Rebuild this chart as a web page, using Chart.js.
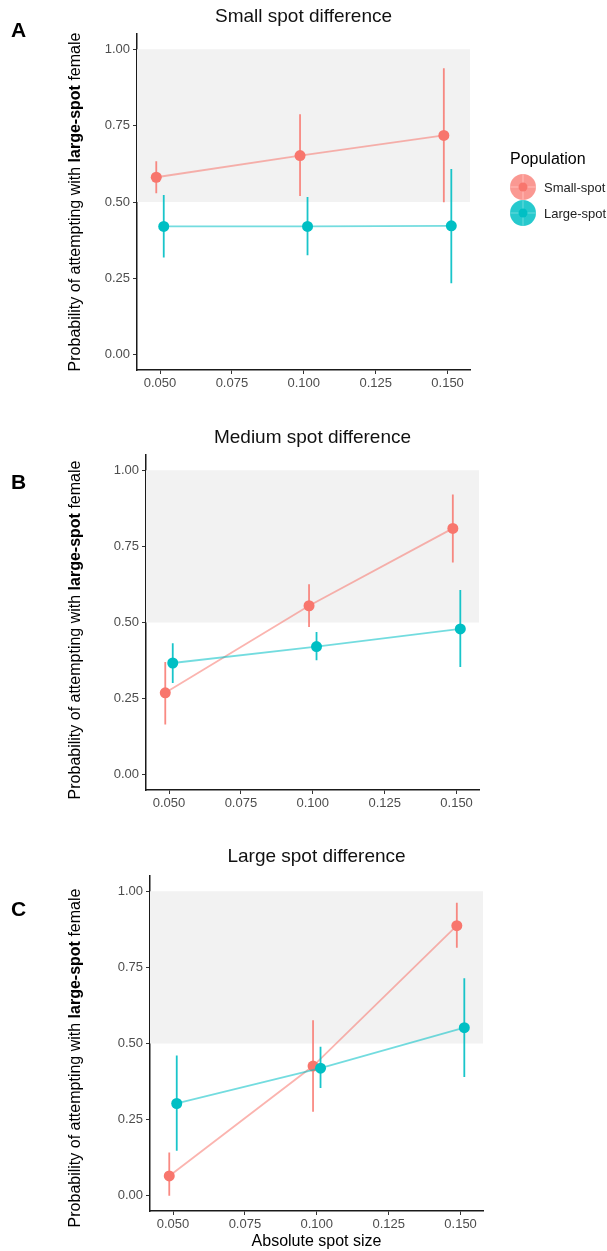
<!DOCTYPE html>
<html>
<head>
<meta charset="utf-8">
<script src="https://cdn.jsdelivr.net/npm/chart.js@4.4.1/dist/chart.umd.min.js"></script>
<style>
  body { margin: 0; background: #fff; width: 607px; height: 1251px; position: relative; overflow: hidden;
         font-family: "Liberation Sans", Arial, Helvetica, sans-serif; }
  canvas { position: absolute; left: 0; }
  .letter { position: absolute; left: 11px; font-size: 21px; font-weight: bold; line-height: 1; transform: translateY(-50%); }
  .ylab { position: absolute; left: 75px; font-size: 16px; white-space: nowrap; color: #000;
          transform: translate(-50%, -50%) rotate(-90deg); line-height: 1; }
  .legend { position: absolute; left: 508px; top: 150px; }
  .legend .ttl { font-size: 16px; color: #000; margin-bottom: 6px; margin-left: 2px; }
  .legend .row { display: flex; align-items: center; height: 26px; }
  .legend .lab { font-size: 13px; color: #222; margin-left: 6px; }
</style>
</head>
<body>
<canvas id="panelA" width="607" height="400" style="top:0px"></canvas>
<canvas id="panelB" width="607" height="400" style="top:420px"></canvas>
<canvas id="panelC" width="607" height="411" style="top:840px"></canvas>

<div class="letter" style="top:29px">A</div>
<div class="letter" style="top:481px">B</div>
<div class="letter" style="top:908px">C</div>

<div class="ylab" style="top:202px">Probability of attempting with <b>large-spot</b> female</div>
<div class="ylab" style="top:630px">Probability of attempting with <b>large-spot</b> female</div>
<div class="ylab" style="top:1058px">Probability of attempting with <b>large-spot</b> female</div>

<div class="legend">
  <div class="ttl">Population</div>
  <div class="row">
    <svg width="30" height="30" viewBox="-15 -15 30 30">
      <circle r="13" fill="rgba(248,118,109,0.75)"/>
      <line x1="-13" y1="0" x2="13" y2="0" stroke="rgba(255,180,175,0.9)" stroke-width="1.5"/>
      <line x1="0" y1="-13" x2="0" y2="13" stroke="rgba(255,180,175,0.9)" stroke-width="1.5"/>
      <circle r="4.5" fill="#F8766D"/>
    </svg>
    <span class="lab">Small-spot</span>
  </div>
  <div class="row">
    <svg width="30" height="30" viewBox="-15 -15 30 30">
      <circle r="13" fill="rgba(0,191,196,0.85)"/>
      <line x1="-13" y1="0" x2="13" y2="0" stroke="rgba(90,215,218,0.9)" stroke-width="1.5"/>
      <line x1="0" y1="-13" x2="0" y2="13" stroke="rgba(90,215,218,0.9)" stroke-width="1.5"/>
      <circle r="4.5" fill="#00BFC4"/>
    </svg>
    <span class="lab">Large-spot</span>
  </div>
</div>

<script>
// spot sizes (x) and tick labels
const spotSizes = [0.05, 0.10, 0.15];
const xTicks = [0.05, 0.075, 0.1, 0.125, 0.15];
const yTicks = [0, 0.25, 0.5, 0.75, 1];
const shadeLow = 0.5;
const shadeHigh = 1.0;

// A - small spot difference
const smallA = [0.581, 0.652, 0.718];
const smallALow = [0.529, 0.520, 0.499];
const smallAHigh = [0.633, 0.787, 0.938];
const largeA = [0.420, 0.420, 0.422];
const largeALow = [0.318, 0.326, 0.234];
const largeAHigh = [0.523, 0.516, 0.608];

// B - medium spot difference
const smallB = [0.269, 0.555, 0.809];
const smallBLow = [0.165, 0.485, 0.697];
const smallBHigh = [0.370, 0.626, 0.920];
const largeB = [0.367, 0.421, 0.479];
const largeBLow = [0.301, 0.376, 0.354];
const largeBHigh = [0.432, 0.469, 0.607];

// C - large spot difference
const smallC = [0.065, 0.426, 0.887];
const smallCLow = [0.000, 0.276, 0.814];
const smallCHigh = [0.142, 0.576, 0.962];
const largeC = [0.303, 0.419, 0.552];
const largeCLow = [0.148, 0.354, 0.390];
const largeCHigh = [0.461, 0.489, 0.714];

const RED = "#F8766D";
const TEAL = "#00BFC4";
const DODGE = 0.0013;
const X_MIN = 0.042, X_MAX = 0.1578;

Chart.defaults.font.family = "'Liberation Sans', Arial, Helvetica, sans-serif";

function points(vals, shift) {
  return spotSizes.map((x, i) => ({ x: x + shift, y: vals[i] }));
}

function errorBars(low, high, shift) {
  let out = [];
  spotSizes.forEach((x, i) => {
    out.push({ x: x + shift, y: low[i] });
    out.push({ x: x + shift, y: high[i] });
    out.push({ x: x + shift, y: null });
  });
  return out;
}

function makePanel(id, title, series, lay) {
  const ctx = document.getElementById(id).getContext("2d");
  const datasets = [
    {
      data: [{ x: X_MIN, y: shadeHigh }, { x: X_MAX, y: shadeHigh }],
      fill: { value: shadeLow },
      backgroundColor: "#f2f2f2",
      borderWidth: 0,
      pointRadius: 0,
      order: 10,
    },
    {
      data: errorBars(series.smallLow, series.smallHigh, -DODGE),
      borderColor: "rgba(248,118,109,0.85)",
      borderWidth: 1.8,
      pointRadius: 0,
      spanGaps: false,
      order: 6,
    },
    {
      data: points(series.small, -DODGE),
      borderColor: "rgba(248,118,109,0.55)",
      borderWidth: 1.8,
      pointRadius: 5.5,
      pointBackgroundColor: RED,
      pointBorderWidth: 0,
      order: 5,
    },
    {
      data: errorBars(series.largeLow, series.largeHigh, DODGE),
      borderColor: "rgba(0,191,196,0.9)",
      borderWidth: 1.8,
      pointRadius: 0,
      spanGaps: false,
      order: 4,
    },
    {
      data: points(series.large, DODGE),
      borderColor: "rgba(0,191,196,0.55)",
      borderWidth: 1.8,
      pointRadius: 5.5,
      pointBackgroundColor: TEAL,
      pointBorderWidth: 0,
      order: 3,
    },
  ];

  const axisCommon = {
    grid: { display: true, drawOnChartArea: false, drawTicks: true, tickLength: 4, tickColor: "#333", tickWidth: 1 },
    border: { display: true, color: "#1a1a1a", width: 1.5 },
  };

  return new Chart(ctx, {
    type: "line",
    data: { datasets },
    options: {
      responsive: false,
      animation: false,
      events: [],
      layout: { padding: { left: lay.left - 50, right: 607 - lay.right, top: 0, bottom: lay.padBottom } },
      plugins: {
        legend: { display: false },
        tooltip: { enabled: false },
        title: {
          display: true,
          text: title,
          fullSize: false,
          color: "#111",
          font: { size: 19, weight: "normal" },
          padding: { top: lay.titleTop, bottom: lay.titleBottom },
        },
      },
      scales: {
        x: {
          ...axisCommon,
          type: "linear",
          min: X_MIN,
          max: X_MAX,
          afterBuildTicks: (s) => { s.ticks = xTicks.map((v) => ({ value: v })); },
          afterFit: (s) => { s.height = lay.xHeight; },
          ticks: {
            callback: (v) => Number(v).toFixed(3),
            font: { size: 13 },
            color: "#4d4d4d",
            padding: 2,
            maxRotation: 0,
            autoSkip: false,
          },
          title: {
            display: !!lay.xTitle,
            text: lay.xTitle || "",
            color: "#000",
            font: { size: 16 },
            padding: { top: 0, bottom: 0 },
          },
        },
        y: {
          ...axisCommon,
          type: "linear",
          min: -0.05,
          max: 1.05,
          afterBuildTicks: (s) => { s.ticks = yTicks.map((v) => ({ value: v })); },
          afterFit: (s) => { s.width = 50; },
          ticks: {
            callback: (v) => Number(v).toFixed(2),
            font: { size: 13 },
            color: "#4d4d4d",
            padding: 3,
          },
        },
      },
    },
  });
}

makePanel("panelA", "Small spot difference",
  { small: smallA, smallLow: smallALow, smallHigh: smallAHigh, large: largeA, largeLow: largeALow, largeHigh: largeAHigh },
  { left: 137, right: 470, titleTop: 5, titleBottom: 6.2, xHeight: 20, padBottom: 10 });

makePanel("panelB", "Medium spot difference",
  { small: smallB, smallLow: smallBLow, smallHigh: smallBHigh, large: largeB, largeLow: largeBLow, largeHigh: largeBHigh },
  { left: 146, right: 479, titleTop: 6, titleBottom: 6.2, xHeight: 20, padBottom: 10 });

makePanel("panelC", "Large spot difference",
  { small: smallC, smallLow: smallCLow, smallHigh: smallCHigh, large: largeC, largeLow: largeCLow, largeHigh: largeCHigh },
  { left: 150, right: 483, titleTop: 5.5, titleBottom: 7.7, xHeight: 40, padBottom: 0, xTitle: "Absolute spot size" });
</script>
</body>
</html>
